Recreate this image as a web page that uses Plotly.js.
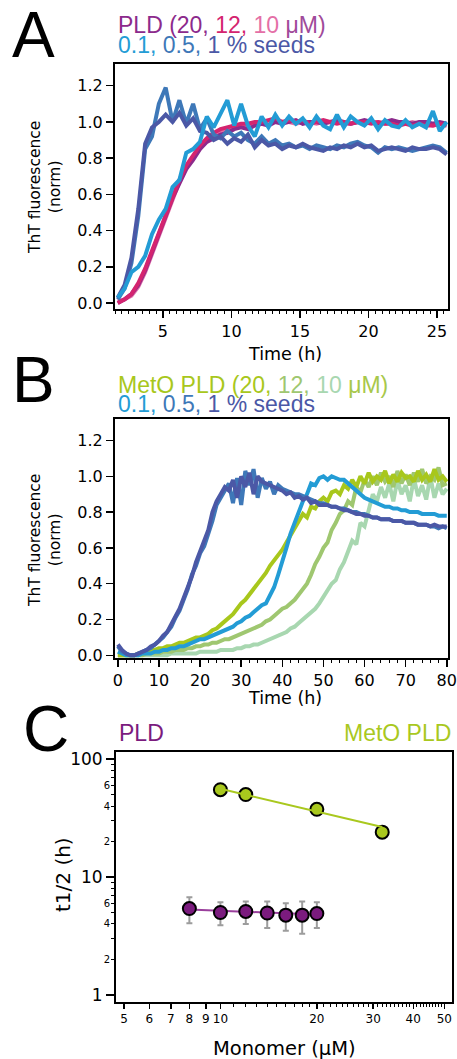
<!DOCTYPE html>
<html><head><meta charset="utf-8">
<script src="https://cdn.plot.ly/plotly-3.0.1.min.js"></script>
<style>html,body{margin:0;padding:0;background:#fff;} #chart{width:457px;height:1059px;}</style>
</head><body><div id="chart"></div>
<script>
// ---------- Panel A data (time in h, normalised ThT) ----------
const tA = [1.7,2.2,2.7,3.2,3.7,4.2,4.7,5.2,5.7,6.2,6.7,7.2,7.7,8.2,8.7,9.2,9.7,
  10.2,10.7,11.2,11.7,12.2,12.7,13.2,13.7,14.2,14.7,15.2,15.7,16.2,16.7,17.2,17.7,
  18.2,18.7,19.2,19.7,20.2,20.7,21.2,21.7,22.2,22.7,23.2,23.7,24.2,24.7,25.2,25.7];
const pld20A = [0.00,0.02,0.05,0.10,0.18,0.28,0.38,0.48,0.58,0.66,0.74,0.79,0.85,0.89,0.91,0.93,0.94,
  0.96,0.97,0.96,0.98,0.99,0.98,1.00,0.99,1.00,1.01,0.99,1.00,1.00,0.99,1.00,1.01,
  1.00,0.99,1.00,1.01,1.00,0.99,1.00,1.01,1.00,1.00,0.99,1.00,1.00,0.99,1.00,0.99];
const pld12A = [0.00,0.02,0.05,0.11,0.19,0.29,0.39,0.49,0.59,0.68,0.76,0.82,0.87,0.91,0.94,0.96,0.97,
  0.98,0.99,0.99,1.00,1.00,1.01,1.02,1.00,1.01,1.00,1.01,0.99,1.00,1.01,1.00,0.99,
  1.00,0.99,1.00,1.00,0.99,1.00,0.99,0.99,0.98,0.99,0.98,0.99,0.98,0.98,0.99,0.98];
const pld10A = [0.01,0.02,0.04,0.09,0.17,0.27,0.37,0.47,0.57,0.67,0.75,0.81,0.86,0.90,0.93,0.95,0.96,
  0.97,0.98,0.98,0.99,1.00,1.00,1.01,1.00,1.00,0.99,1.00,1.00,0.99,1.00,1.00,1.00,
  0.99,0.99,1.00,0.99,1.00,1.00,0.99,1.00,0.99,0.99,1.00,0.99,0.99,0.98,0.99,0.98];
const seed01A = [0.03,0.08,0.17,0.20,0.26,0.38,0.46,0.52,0.64,0.68,0.83,0.85,0.89,1.03,0.97,1.04,1.12,
  0.98,1.10,0.98,0.92,1.03,0.97,1.04,0.98,1.03,0.99,1.02,0.97,1.03,0.98,0.96,1.04,
  0.97,1.03,1.00,0.98,1.02,0.96,1.01,0.98,0.97,1.01,0.97,0.99,0.97,1.06,0.95,1.00];
const seed05A = [0.02,0.08,0.22,0.48,0.85,0.92,1.10,1.19,1.00,1.12,0.99,1.10,0.96,1.02,0.93,0.91,0.95,
  0.92,0.94,0.90,0.88,0.92,0.88,0.90,0.87,0.88,0.86,0.87,0.85,0.87,0.86,0.85,0.87,
  0.86,0.88,0.89,0.87,0.86,0.83,0.86,0.85,0.86,0.85,0.84,0.85,0.86,0.87,0.86,0.83];
const seed1A = [0.03,0.10,0.25,0.52,0.88,0.97,1.00,1.04,1.00,1.05,0.98,1.02,0.95,0.94,0.90,0.92,0.88,
  0.91,0.89,0.93,0.86,0.90,0.87,0.88,0.85,0.87,0.86,0.88,0.86,0.85,0.84,0.86,0.85,
  0.87,0.86,0.88,0.86,0.87,0.84,0.85,0.86,0.85,0.84,0.86,0.85,0.85,0.86,0.85,0.82];

// ---------- Panel B data ----------
const tB = [0,1,2,3,4,5,6,7,8,9,10,11,12,13,14,15,16,17,18,19,20,21,22,23,24,25,26,27,28,29,
  30,31,32,33,34,35,36,37,38,39,40,41,42,43,44,45,46,47,48,49,50,51,52,53,54,55,56,57,58,59,
  60,61,62,63,64,65,66,67,68,69,70,71,72,73,74,75,76,77,78,79,80];
const metO10B = [0.00,0.00,0.00,0.00,0.00,0.00,0.00,0.00,0.00,0.00,
  0.00,0.00,0.00,0.01,0.01,0.01,0.01,0.01,0.01,0.01,
  0.02,0.02,0.02,0.02,0.02,0.03,0.03,0.03,0.03,0.04,
  0.04,0.05,0.05,0.06,0.06,0.07,0.08,0.09,0.10,0.11,
  0.12,0.13,0.15,0.16,0.18,0.20,0.22,0.24,0.26,0.29,
  0.33,0.36,0.40,0.42,0.48,0.52,0.58,0.64,0.62,0.74,
  0.72,0.80,0.90,0.86,0.94,0.88,0.96,0.86,0.98,0.90,
  0.95,0.86,0.99,0.89,0.95,0.87,1.00,0.88,0.96,0.90,0.93];
const metO12B = [0.00,0.00,0.00,0.00,0.00,0.00,0.00,0.01,0.01,0.01,
  0.01,0.02,0.02,0.02,0.03,0.03,0.03,0.04,0.04,0.05,
  0.05,0.06,0.06,0.07,0.07,0.08,0.09,0.09,0.10,0.11,
  0.12,0.13,0.14,0.15,0.16,0.17,0.19,0.20,0.22,0.24,
  0.26,0.27,0.29,0.31,0.34,0.37,0.40,0.45,0.51,0.55,
  0.60,0.63,0.70,0.74,0.79,0.81,0.86,0.84,0.94,0.91,
  0.98,0.94,1.00,0.95,1.02,0.97,1.00,0.94,1.03,0.96,
  1.01,0.95,1.02,0.97,1.04,0.96,1.00,0.98,1.05,0.95,0.96];
const metO20B = [0.00,0.00,0.00,0.00,0.00,0.01,0.01,0.02,0.03,0.03,
  0.04,0.04,0.05,0.05,0.06,0.07,0.07,0.08,0.09,0.10,
  0.10,0.11,0.12,0.14,0.15,0.17,0.19,0.21,0.23,0.26,
  0.29,0.31,0.34,0.37,0.40,0.43,0.46,0.50,0.53,0.56,
  0.59,0.63,0.67,0.72,0.75,0.79,0.77,0.83,0.82,0.86,
  0.88,0.86,0.91,0.92,0.90,0.95,0.93,0.98,0.94,1.00,
  0.96,1.02,0.97,1.00,0.98,1.03,0.96,1.01,0.97,1.02,
  0.99,1.00,0.97,1.03,0.98,1.01,0.97,1.04,0.98,1.00,0.97];
const seed01B = [0.02,0.01,0.00,0.00,0.00,0.00,0.01,0.01,0.01,0.02,
  0.02,0.03,0.03,0.04,0.04,0.05,0.05,0.06,0.07,0.08,
  0.09,0.09,0.10,0.11,0.12,0.13,0.14,0.15,0.16,0.18,
  0.19,0.21,0.22,0.24,0.26,0.28,0.29,0.33,0.38,0.45,
  0.52,0.60,0.68,0.74,0.80,0.86,0.90,0.96,0.95,0.99,
  1.00,0.98,1.00,0.99,0.98,0.98,0.96,0.94,0.92,0.90,
  0.88,0.87,0.86,0.85,0.84,0.83,0.83,0.82,0.82,0.81,
  0.81,0.80,0.80,0.80,0.79,0.79,0.79,0.79,0.78,0.78,0.78];
const seed05B = [0.05,0.02,0.01,0.00,0.00,0.01,0.02,0.03,0.04,0.06,
  0.08,0.10,0.13,0.16,0.21,0.25,0.31,0.37,0.45,0.50,
  0.57,0.61,0.68,0.75,0.84,0.88,0.92,0.96,0.85,0.99,
  0.84,1.03,0.95,1.04,0.88,0.99,0.93,0.97,0.90,0.95,
  0.93,0.92,0.91,0.90,0.90,0.89,0.88,0.87,0.86,0.85,
  0.85,0.84,0.83,0.83,0.82,0.82,0.81,0.80,0.80,0.79,
  0.79,0.78,0.77,0.77,0.76,0.76,0.76,0.75,0.75,0.75,
  0.74,0.74,0.74,0.73,0.73,0.73,0.72,0.72,0.71,0.72,0.71];
const seed1B = [0.06,0.03,0.01,0.00,0.00,0.01,0.02,0.03,0.05,0.06,
  0.08,0.11,0.13,0.17,0.21,0.26,0.32,0.38,0.44,0.52,
  0.58,0.63,0.70,0.80,0.86,0.90,0.94,0.92,0.98,0.88,
  1.00,0.94,1.02,0.90,1.00,0.97,0.96,0.95,0.94,0.93,
  0.92,0.90,0.91,0.88,0.89,0.87,0.88,0.85,0.86,0.84,
  0.84,0.84,0.83,0.83,0.82,0.81,0.81,0.80,0.79,0.79,
  0.78,0.78,0.77,0.77,0.76,0.76,0.76,0.75,0.75,0.75,
  0.74,0.74,0.74,0.73,0.73,0.73,0.72,0.73,0.72,0.72,0.72];

// ---------- Panel C data (t1/2 vs monomer) ----------
const pldConc = [8,10,12,14,16,18,20];
const pldHalf = [5.4,5.0,5.1,4.95,4.75,4.75,4.9];
const pldErr  = [1.35,1.1,1.1,1.25,1.25,1.45,1.2];
const pldFitX = [8,20];
const pldFitY = [5.3,4.8];
const metConc = [10,12,20,32];
const metHalf = [55,50,37.5,24];
const metFitX = [10,32];
const metFitY = [56,26.5];
const cXTicks = [5,6,7,8,9,10,20,30,40,50];
const cXMinor = [11,12,13,14,15,16,17,18,19,21,22,23,24,25,26,27,28,29,31,32,33,34,35,36,37,38,39,41,42,43,44,45,46,47,48,49];
const cYMajor = [1,10,100];
const cYMinorLab = [2,4,6,20,40,60];
const cYMinorText = ['2','4','6','2','4','6'];
const cYMinor = [2,3,4,5,6,7,8,9,20,30,40,50,60,70,80,90];

// ---------- colours ----------
const C = {
  pld20:'#8C2A8C', pld12:'#D4246F', pld10:'#E46FA6',
  s01:'#239CD5', s05:'#3E78B8', s1:'#4B58A6',
  m20:'#A8C71C', m12:'#9FC770', m10:'#A8D7B0',
  purpleDot:'#7B1B7E', greenDot:'#A9C81E'
};

const W = 457, H = 1059;
const px = x => x / W;
const py = y => 1 - y / H;

function ln(x, y, color, xa, ya) {
  return {x, y, xaxis: xa, yaxis: ya, type: 'scatter', mode: 'lines',
          line: {color, width: 4}, hoverinfo: 'skip', showlegend: false};
}

const traces = [
  ln(tA, pld10A, C.pld10, 'x', 'y'),
  ln(tA, pld20A, C.pld20, 'x', 'y'),
  ln(tA, pld12A, C.pld12, 'x', 'y'),
  ln(tA, seed05A, C.s05, 'x', 'y'),
  ln(tA, seed1A, C.s1, 'x', 'y'),
  ln(tA, seed01A, C.s01, 'x', 'y'),

  ln(tB, metO10B, C.m10, 'x2', 'y2'),
  ln(tB, metO12B, C.m12, 'x2', 'y2'),
  ln(tB, metO20B, C.m20, 'x2', 'y2'),
  ln(tB, seed01B, C.s01, 'x2', 'y2'),
  ln(tB, seed05B, C.s05, 'x2', 'y2'),
  ln(tB, seed1B, C.s1, 'x2', 'y2'),

  {x: metFitX, y: metFitY, xaxis: 'x3', yaxis: 'y4', mode: 'lines', line: {color: C.greenDot, width: 2}, showlegend: false},
  {x: pldFitX, y: pldFitY, xaxis: 'x3', yaxis: 'y3', mode: 'lines', line: {color: '#9A3F9C', width: 2}, showlegend: false},
  {x: pldConc, y: pldHalf, xaxis: 'x3', yaxis: 'y3', mode: 'markers',
   error_y: {type: 'data', array: pldErr, color: '#9c9c9c', thickness: 2, width: 3},
   marker: {size: 13, color: C.purpleDot, line: {color: '#000', width: 2}}, showlegend: false},
  {x: metConc, y: metHalf, xaxis: 'x3', yaxis: 'y3', mode: 'markers',
   marker: {size: 13, color: C.greenDot, line: {color: '#000', width: 2}}, showlegend: false}
];

const frame = {showline: true, linecolor: '#000', linewidth: 2, mirror: true, showgrid: false,
  zeroline: false, ticks: 'outside', tickcolor: '#000', tickwidth: 1.5, fixedrange: true};

const layout = {
  width: W, height: H, margin: {l: 0, r: 0, t: 0, b: 0},
  paper_bgcolor: '#fff', plot_bgcolor: '#fff', showlegend: false,
  font: {family: 'DejaVu Sans, Verdana, sans-serif', color: '#000', size: 16},
  xaxis: Object.assign({}, frame, {domain: [px(115), px(448)], anchor: 'y', range: [1.5, 25.8],
    tickmode: 'linear', tick0: 0, dtick: 5, ticklen: 7, tickfont: {size: 16},
    minor: {tickmode: 'linear', tick0: 0, dtick: 0.5, ticks: 'outside', ticklen: 3, tickcolor: '#000', tickwidth: 1}}),
  yaxis: Object.assign({}, frame, {domain: [py(309), py(64)], anchor: 'x', range: [-0.033, 1.32],
    tickmode: 'linear', tick0: 0, dtick: 0.2, tickformat: '.1f', ticklen: 7, tickfont: {size: 16}}),
  xaxis2: Object.assign({}, frame, {domain: [px(115), px(448)], anchor: 'y2', range: [-0.7, 80.3],
    tickmode: 'linear', tick0: 0, dtick: 10, ticklen: 7, tickfont: {size: 16},
    minor: {tickmode: 'linear', tick0: 0, dtick: 2, ticks: 'outside', ticklen: 3, tickcolor: '#000', tickwidth: 1}}),
  yaxis2: Object.assign({}, frame, {domain: [py(658), py(419)], anchor: 'x2', range: [-0.015, 1.32],
    tickmode: 'linear', tick0: 0, dtick: 0.2, tickformat: '.1f', ticklen: 7, tickfont: {size: 16}}),
  xaxis3: Object.assign({}, frame, {domain: [px(116), px(452)], anchor: 'y3', type: 'log', range: [0.674, 1.723],
    tickmode: 'array', tickvals: cXTicks, ticktext: cXTicks.map(String), ticklen: 5, tickfont: {size: 12},
    minor: {tickmode: 'array', tickvals: cXMinor, ticks: 'outside', ticklen: 3, tickcolor: '#000', tickwidth: 1}}),
  yaxis3: Object.assign({}, frame, {domain: [py(1002), py(752)], anchor: 'x3', type: 'log', range: [-0.06, 2.06],
    tickmode: 'array', tickvals: cYMajor, ticktext: cYMajor.map(String), ticklen: 8, tickfont: {size: 17},
    minor: {tickmode: 'array', tickvals: cYMinor, ticks: 'outside', ticklen: 3, tickcolor: '#000', tickwidth: 1}}),
  yaxis4: {overlaying: 'y3', anchor: 'x3', side: 'left', type: 'log', range: [-0.06, 2.06],
    tickmode: 'array', tickvals: cYMinorLab, ticktext: cYMinorText, ticks: 'outside', ticklen: 3,
    tickcolor: '#000', tickwidth: 1, tickfont: {size: 10}, showline: false, showgrid: false, zeroline: false, fixedrange: true},
  annotations: []
};

function ann(text, x, y, opts) {
  layout.annotations.push(Object.assign({text, x: px(x), y: py(y), xref: 'paper', yref: 'paper',
    showarrow: false, xanchor: 'center', yanchor: 'middle'}, opts || {}));
}
const big = {family: 'Liberation Sans, Arial, sans-serif', size: 64, color: '#000'};
ann('A', 33, 35, {font: big});
ann('B', 33, 380, {font: big});
ann('C', 46, 729, {font: big});

const tf = {family: 'Liberation Sans, Arial, sans-serif', size: 23};
const sp = (c, t) => '<span style="color:' + c + '">' + t + '</span>';
ann(sp(C.pld20, 'PLD (20, ') + sp(C.pld12, '12, ') + sp(C.pld10, '10 ') + sp('#A04A9A', 'μM)'), 116, 25, {xanchor: 'left', font: tf});
ann(sp(C.s01, '0.1, ') + sp(C.s05, '0.5, ') + sp(C.s1, '1 % seeds'), 116, 45, {xanchor: 'left', font: tf});
ann(sp(C.m20, 'MetO PLD (20, ') + sp(C.m12, '12, ') + sp(C.m10, '10 ') + sp('#A8C84A', 'μM)'), 116, 385, {xanchor: 'left', font: tf});
ann(sp(C.s01, '0.1, ') + sp(C.s05, '0.5, ') + sp(C.s1, '1 % seeds'), 116, 404, {xanchor: 'left', font: tf});
ann('PLD', 117, 733, {xanchor: 'left', font: Object.assign({}, tf, {color: C.purpleDot})});
ann('MetO PLD', 453, 733, {xanchor: 'right', font: Object.assign({}, tf, {color: C.greenDot})});

const at = {family: 'DejaVu Sans, Verdana, sans-serif', size: 15.5, color: '#000'};
ann('Time (h)', 285, 354, {font: Object.assign({}, at, {size: 17.5})});
ann('ThT fluorescence<br>(norm)', 45, 188, {textangle: -90, font: at});
ann('Time (h)', 285, 698, {font: Object.assign({}, at, {size: 17.5})});
ann('ThT fluorescence<br>(norm)', 45, 541, {textangle: -90, font: at});
ann('Monomer (μM)', 284, 1048, {font: Object.assign({}, at, {size: 19.5})});
ann('t1/2 (h)', 63, 875, {textangle: -90, font: Object.assign({}, at, {size: 20})});

Plotly.newPlot('chart', traces, layout, {staticPlot: true, displayModeBar: false});
</script></body></html>
